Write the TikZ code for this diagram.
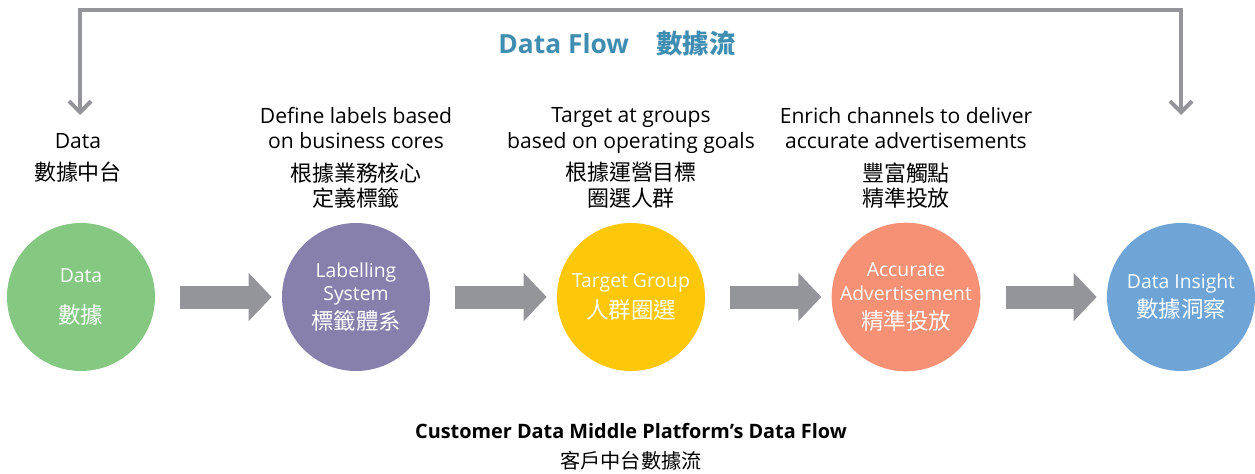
\documentclass[tikz,border=0pt]{standalone}
\usepackage{fontspec}
\setmainfont{Open Sans}
\newfontfamily\cjk{Noto Sans CJK TC}
\usetikzlibrary{arrows.meta, positioning, calc}
\definecolor{datacolor}{RGB}{132, 200, 130}
\definecolor{labelcolor}{RGB}{136, 128, 172}
\definecolor{targetcolor}{RGB}{253, 200, 10}
\definecolor{advertcolor}{RGB}{246, 145, 117}
\definecolor{insightcolor}{RGB}{110, 164, 214}
\definecolor{arrowgray}{RGB}{147, 149, 152}
\definecolor{titlecolor}{RGB}{64, 141, 178}
\newcommand{\zh}[1]{{\cjk\fontsize{12.5}{15.5}\selectfont #1}}
\newcommand{\zhin}[1]{{\cjk\fontsize{12.8}{15}\selectfont #1}}

\begin{document}
\begin{tikzpicture}[
    >={Straight Barb[length=0.22cm, width=0.44cm]},
    stage/.style={circle, minimum size=2.96cm, inner sep=0pt, align=center, text=white, font=\fontsize{11}{13.5}\selectfont},
    stagetext/.style={align=center, font=\fontsize{12}{14.5}\selectfont},
    flowarrow/.style={draw=arrowgray, line width=0.46cm, -{Triangle[length=0.46cm, width=0.94cm]}, shorten <=0.5cm, shorten >=0.2cm},
    cycleline/.style={draw=arrowgray, line width=0.08cm, <->}
]
\useasboundingbox (0, 0) rectangle (25.1, 9.46);

% Title
\node[font=\fontsize{15}{18}\selectfont\bfseries, text=titlecolor] (title) at (12.34, 8.6) {Data Flow\hspace{0.55cm}{\cjk 數據流}};

% === Stages ===
\node[stage, fill=datacolor] (data) at (1.62, 3.52) {Data\\[10pt]\zhin{數據}};
\node[stage, fill=labelcolor] (labelling) at (7.12, 3.52) {Labelling\\System\\[3pt]\zhin{標籤體系}};
\node[stage, fill=targetcolor] (target) at (12.62, 3.52) {Target Group\\[4pt]\zhin{人群圈選}};
\node[stage, fill=advertcolor] (advert) at (18.12, 3.52) {Accurate\\Advertisement\\[3pt]\zhin{精準投放}};
\node[stage, fill=insightcolor] (insight) at (23.62, 3.52) {Data Insight\\[3pt]\zhin{數據洞察}};

% === Descriptions ===
\node[stagetext] (datatext) at (1.56, 6.3) {Data\\[4pt]\zh{數據中台}};
\node[stagetext] (labeltext) at (7.12, 6.3) {Define labels based\\on business cores\\[4pt]\zh{根據業務核心}\\\zh{定義標籤}};
\node[stagetext] (targettext) at (12.62, 6.3) {Target at groups\\based on operating goals\\[4pt]\zh{根據運營目標}\\\zh{圈選人群}};
\node[stagetext] (adverttext) at (18.12, 6.3) {Enrich channels to deliver\\accurate advertisements\\[4pt]\zh{豐富觸點}\\\zh{精準投放}};

% Arrows
\draw[flowarrow] (data) -- (labelling);
\draw[flowarrow] (labelling) -- (target);
\draw[flowarrow] (target) -- (advert);
\draw[flowarrow] (advert) -- (insight);

% Loop back
\coordinate (loopL) at (1.6, 7.16);
\coordinate (loopR) at (23.62, 7.16);
\draw[cycleline] (loopL) -- ++(0, 2.1) -| (loopR);

% Caption
\node[align=center] (caption) at (12.62, 0.53) {{\fontsize{11.3}{13}\selectfont\bfseries Customer Data Middle Platform’s Data Flow}\\[5pt]{\cjk\fontsize{11.5}{14}\selectfont 客戶中台數據流}};

\end{tikzpicture}
\end{document}
